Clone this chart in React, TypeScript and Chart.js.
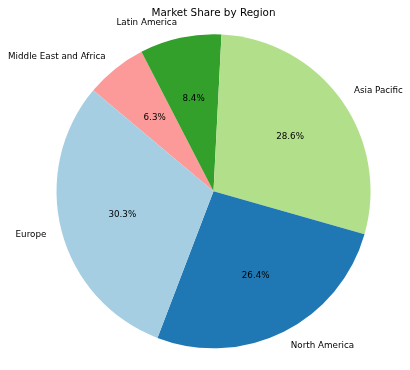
import React, { useEffect, useRef } from "react";
import { Chart, registerables } from "chart.js";

Chart.register(...registerables);

// Drawn clockwise (Chart.js) starting at the MEA / Europe boundary
const regions = ["Middle East and Africa", "Latin America", "Asia Pacific", "North America", "Europe"];
const shares = [6.3, 8.4, 28.6, 26.4, 30.3];
const colors = ["#fb9a99", "#33a02c", "#b2df8a", "#1f78b4", "#a6cee3"];
const titleText = "Market Share by Region";

const FONT = "'DejaVu Sans', sans-serif";

const labelPlugin = {
  id: "pieLabels",
  afterDraw(chart: any) {
    const ctx = chart.ctx as CanvasRenderingContext2D;
    const meta = chart.getDatasetMeta(0);
    const total = shares.reduce((a, b) => a + b, 0);
    ctx.save();
    ctx.fillStyle = "#000";
    meta.data.forEach((arc: any, i: number) => {
      const { x, y, startAngle, endAngle, outerRadius } = arc.getProps(
        ["x", "y", "startAngle", "endAngle", "outerRadius"],
        true
      );
      const mid = (startAngle + endAngle) / 2;
      const cx = Math.cos(mid);
      const cy = Math.sin(mid);
      // outer label
      ctx.font = `8.75px ${FONT}`;
      ctx.textBaseline = "middle";
      ctx.textAlign = cx >= 0 ? "left" : "right";
      ctx.fillText(regions[i], x + cx * outerRadius * 1.1, y + cy * outerRadius * 1.1);
      // percent
      ctx.textAlign = "center";
      const pct = ((shares[i] / total) * 100).toFixed(1) + "%";
      ctx.fillText(pct, x + cx * outerRadius * 0.6, y + cy * outerRadius * 0.6);
    });
    // title
    ctx.font = `10.4px ${FONT}`;
    ctx.textAlign = "center";
    ctx.textBaseline = "alphabetic";
    ctx.fillText(titleText, 213.5, 16);
    ctx.restore();
  },
};

export default function App() {
  const ref = useRef<HTMLCanvasElement | null>(null);
  useEffect(() => {
    document.body.style.margin = "0";
    const chart = new Chart(ref.current!, {
      type: "pie",
      data: {
        labels: regions,
        datasets: [
          {
            data: shares,
            backgroundColor: colors,
            borderWidth: 0,
          },
        ],
      },
      options: {
        animation: false,
        responsive: false,
        rotation: -50,
        layout: { padding: { left: 56.5, right: 39.5, top: 34, bottom: 21.5 } },
        plugins: {
          legend: { display: false },
          tooltip: { enabled: false },
          title: { display: false },
        },
      },
      plugins: [labelPlugin],
    });
    return () => chart.destroy();
  }, []);
  return (
    <div style={{ position: "absolute", left: 0, top: 0, width: 410, height: 370, background: "#fff" }}>
      <canvas ref={ref} width={410} height={370} style={{ width: 410, height: 370 }} />
    </div>
  );
}
